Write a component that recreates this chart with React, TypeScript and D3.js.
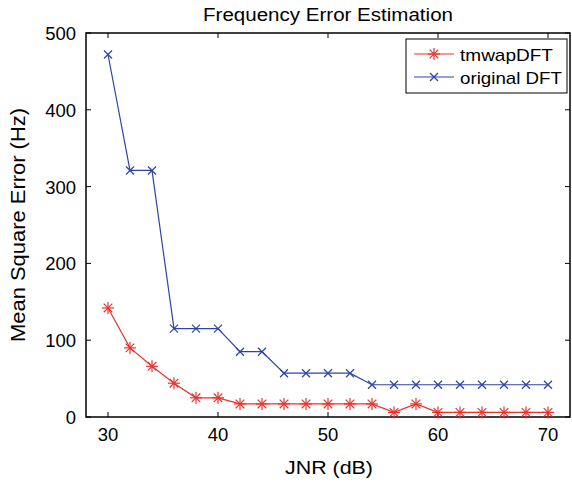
import React from "react";
import * as d3 from "d3";

const jnr = [30, 32, 34, 36, 38, 40, 42, 44, 46, 48, 50, 52, 54, 56, 58, 60, 62, 64, 66, 68, 70];
const tmwapDFT = [142, 90, 66, 44, 25, 25, 17, 17, 17, 17, 17, 17, 17, 6, 17, 6, 6, 6, 6, 6, 6];
const originalDFT = [472, 321, 321, 115, 115, 115, 85, 85, 57, 57, 57, 57, 42, 42, 42, 42, 42, 42, 42, 42, 42];
const xTicks = [30, 40, 50, 60, 70];
const yTicks = [0, 100, 200, 300, 400, 500];
const seriesNames = ["tmwapDFT", "original DFT"];

const W = 572, H = 482;
const L = 86, R = 570, T = 33, B = 417;
const RED = "#e8322c";
const BLUE = "#2e45a5";
const FONT = "Helvetica, Arial, 'Liberation Sans', sans-serif";

export default function App() {
  const x = d3.scaleLinear().domain([28, 72]).range([L, R]);
  const y = d3.scaleLinear().domain([0, 500]).range([B, T]);
  const line = d3.line<[number, number]>().x(d => x(d[0])).y(d => y(d[1]));
  const redPts: [number, number][] = jnr.map((v, i) => [v, tmwapDFT[i]]);
  const bluePts: [number, number][] = jnr.map((v, i) => [v, originalDFT[i]]);

  const star = (cx: number, cy: number, k: string) => {
    const r = 6, d = 4.3;
    return (
      <g key={k} stroke={RED} strokeWidth={1.2}>
        <line x1={cx - r} y1={cy} x2={cx + r} y2={cy} />
        <line x1={cx} y1={cy - r} x2={cx} y2={cy + r} />
        <line x1={cx - d} y1={cy - d} x2={cx + d} y2={cy + d} />
        <line x1={cx - d} y1={cy + d} x2={cx + d} y2={cy - d} />
      </g>
    );
  };
  const cross = (cx: number, cy: number, k: string) => {
    const d = 4;
    return (
      <g key={k} stroke={BLUE} strokeWidth={1.2}>
        <line x1={cx - d} y1={cy - d} x2={cx + d} y2={cy + d} />
        <line x1={cx - d} y1={cy + d} x2={cx + d} y2={cy - d} />
      </g>
    );
  };

  const lgX = 406, lgY = 39, lgW = 161, lgH = 54;

  return (
    <svg width={W} height={H} style={{ position: "absolute", left: 0, top: 0, background: "#fff" }} fontFamily={FONT}>
      <rect x={0} y={0} width={W} height={H} fill="#fff" />
      {xTicks.map(t => (
        <g key={"xt" + t}>
          <line x1={x(t)} x2={x(t)} y1={B} y2={B - 5} stroke="#000" />
          <line x1={x(t)} x2={x(t)} y1={T} y2={T + 5} stroke="#000" />
          <text x={x(t)} y={B + 23.5} textAnchor="middle" fontSize={18.5}>{t}</text>
        </g>
      ))}
      {yTicks.map(t => (
        <g key={"yt" + t}>
          <line x1={L} x2={L + 5} y1={y(t)} y2={y(t)} stroke="#000" />
          <line x1={R} x2={R - 5} y1={y(t)} y2={y(t)} stroke="#000" />
          <text x={L - 10} y={y(t) + 7} textAnchor="end" fontSize={18.5}>{t}</text>
        </g>
      ))}
      <rect x={L} y={T} width={R - L} height={B - T} fill="none" stroke="#000" strokeWidth={1.5} />

      <path d={line(bluePts) || ""} fill="none" stroke={BLUE} strokeWidth={1.2} />
      {bluePts.map((p, i) => cross(x(p[0]), y(p[1]), "b" + i))}
      <path d={line(redPts) || ""} fill="none" stroke={RED} strokeWidth={1.2} />
      {redPts.map((p, i) => star(x(p[0]), y(p[1]), "r" + i))}

      <text x={328} y={20.5} textAnchor="middle" fontSize={17.5} textLength={250} lengthAdjust="spacingAndGlyphs">Frequency Error Estimation</text>
      <text x={329} y={474} textAnchor="middle" fontSize={18.5} textLength={88} lengthAdjust="spacingAndGlyphs">JNR (dB)</text>
      <text transform="translate(25, 225) rotate(-90)" textAnchor="middle" fontSize={20} textLength={234} lengthAdjust="spacingAndGlyphs">Mean Square Error (Hz)</text>

      <rect x={lgX} y={lgY} width={lgW} height={lgH} fill="#fff" stroke="#000" strokeWidth={1} />
      <line x1={lgX + 8} x2={lgX + 48} y1={lgY + 15} y2={lgY + 15} stroke={RED} strokeWidth={1.2} />
      {star(lgX + 28, lgY + 15, "lg1")}
      <text x={lgX + 54} y={lgY + 22} fontSize={17} textLength={93} lengthAdjust="spacingAndGlyphs">{seriesNames[0]}</text>
      <line x1={lgX + 8} x2={lgX + 48} y1={lgY + 38} y2={lgY + 38} stroke={BLUE} strokeWidth={1.2} />
      {cross(lgX + 28, lgY + 38, "lg2")}
      <text x={lgX + 54} y={lgY + 45} fontSize={17} textLength={102} lengthAdjust="spacingAndGlyphs">{seriesNames[1]}</text>
    </svg>
  );
}
